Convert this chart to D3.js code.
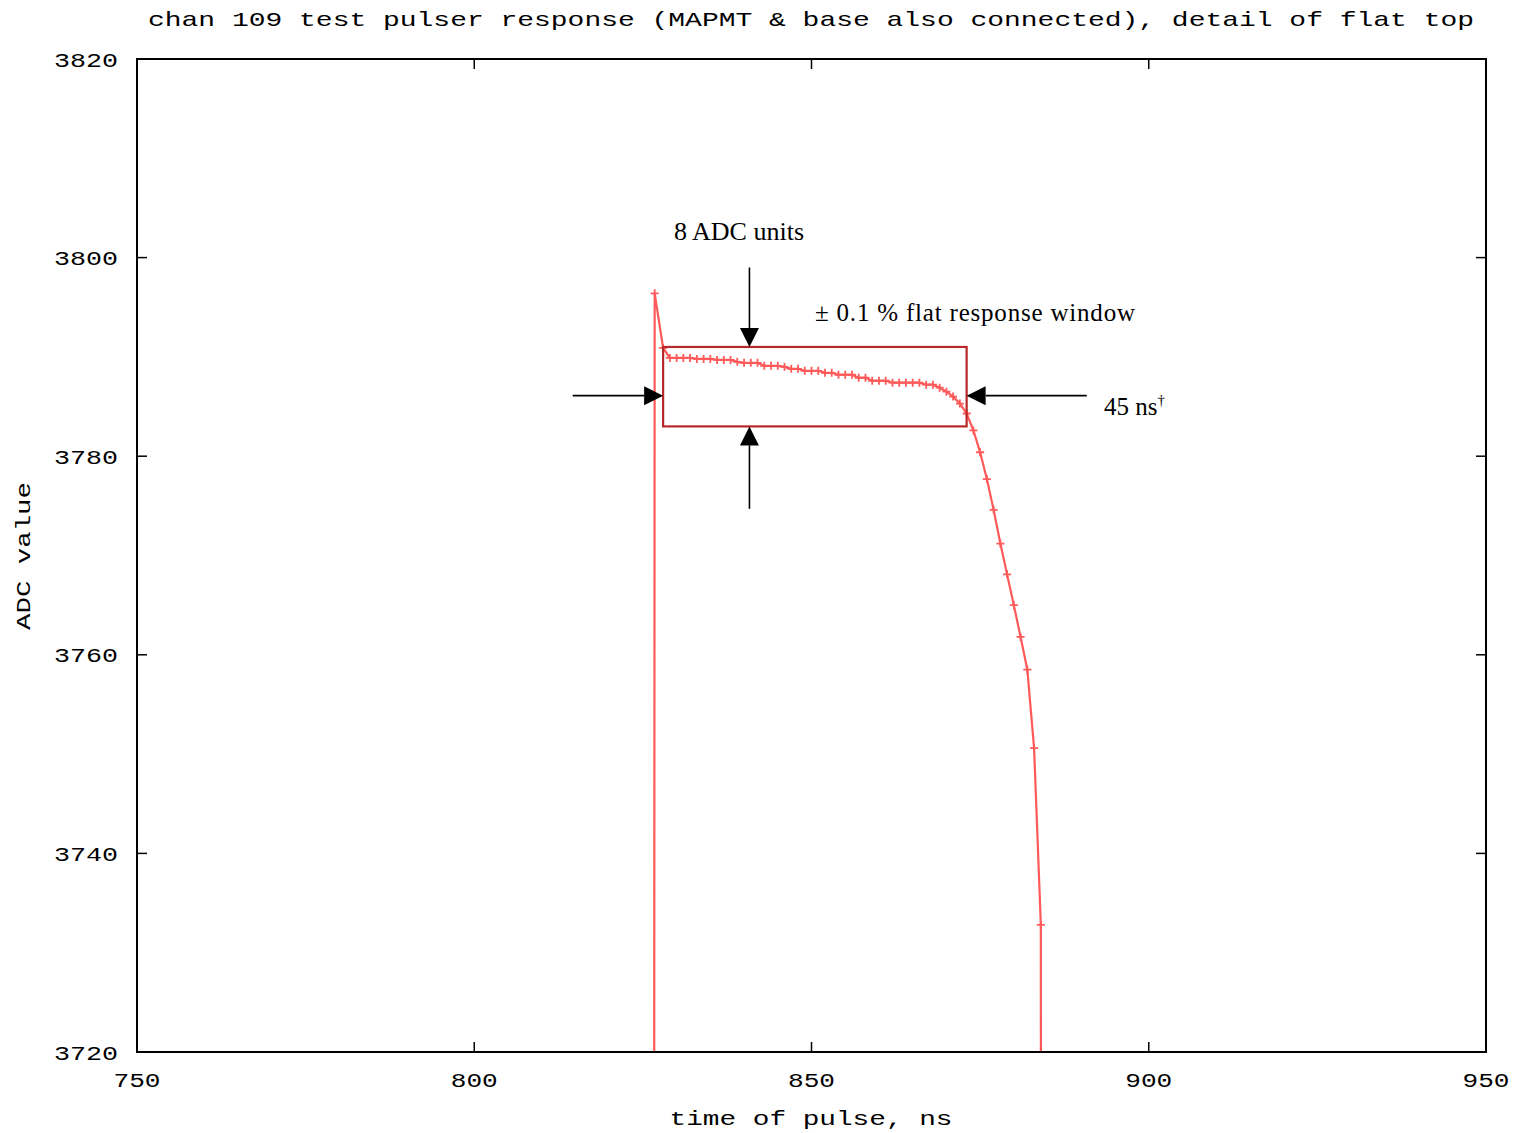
<!DOCTYPE html>
<html>
<head>
<meta charset="utf-8">
<script src="https://cdn.jsdelivr.net/npm/d3@7"></script>
<style>
  html, body { margin: 0; padding: 0; background: #fff; }
  svg { display: block; }
</style>
</head>
<body>
<svg id="chart" width="1522" height="1133"></svg>
<script>
// ---------- data ----------
const titleText = "chan 109 test pulser response (MAPMT & base also connected), detail of flat top";
const xLabel = "time of pulse, ns";
const yLabel = "ADC value";
const xTicks = [750, 800, 850, 900, 950];
const yTicks = [3720, 3740, 3760, 3780, 3800, 3820];

// time (ns) of each sample
const times = [826.3, 826.75, 828,
  829, 830, 831, 832, 833, 834, 835, 836, 837, 838, 839, 840,
  841, 842, 843, 844, 845, 846, 847, 848, 849, 850,
  851, 852, 853, 854, 855, 856, 857, 858, 859, 860,
  861, 862, 863, 864, 865, 866, 867, 868, 869, 870,
  871, 872, 873, 874, 875, 876, 877, 878, 879, 880,
  881, 882, 883, 884, 884.3];
// ADC value of each sample
const adc = [3300, 3796.4, 3790.9,
  3789.9, 3789.9, 3789.9, 3789.9, 3789.8, 3789.8, 3789.8, 3789.7, 3789.7, 3789.7, 3789.5, 3789.4,
  3789.4, 3789.4, 3789.1, 3789.1, 3789.1, 3789.0, 3788.8, 3788.8, 3788.6, 3788.6,
  3788.6, 3788.4, 3788.4, 3788.2, 3788.2, 3788.2, 3787.9, 3787.9, 3787.6, 3787.6,
  3787.6, 3787.4, 3787.4, 3787.4, 3787.4, 3787.4, 3787.2, 3787.2, 3786.9, 3786.5,
  3786.0, 3785.3, 3784.3, 3782.6, 3780.4, 3777.7, 3774.6, 3771.2, 3768.1, 3765.0,
  3761.8, 3758.5, 3750.6, 3732.8, 3300];

// flat response window (ns and ADC range)
const windowT = [828, 873];
const windowADC = [3783, 3791];

// annotation arrows: [x1, y1, x2 (tip), y2 (tip)] in data units
const arrows = [
  [840.8, 3799.0, 840.8, 3791],
  [840.8, 3774.7, 840.8, 3783],
  [814.6, 3786.1, 828, 3786.1],
  [890.8, 3786.1, 873, 3786.1]
];

// ---------- layout ----------
const svg = d3.select("#chart");
const pL = 137, pR = 1486, pT = 59, pB = 1052;
const x = d3.scaleLinear().domain([750, 950]).range([pL, pR]);
const y = d3.scaleLinear().domain([3720, 3820]).range([pB, pT]);

const monoFont = "'Liberation Mono', 'DejaVu Sans Mono', monospace";
const serifFont = "'Liberation Serif', 'Times New Roman', serif";

// clip
svg.append("defs").append("clipPath").attr("id", "plotclip")
  .append("rect").attr("x", pL).attr("y", pT)
  .attr("width", pR - pL).attr("height", pB - pT);

// title
svg.append("text")
  .attr("x", 811).attr("y", 26)
  .attr("text-anchor", "middle")
  .attr("font-family", monoFont).attr("font-size", 21)
  .attr("textLength", 1326).attr("lengthAdjust", "spacingAndGlyphs")
  .attr("fill", "#000")
  .text(titleText);

// ticks (inside, mirrored)
const tickLen = 10;
const tg = svg.append("g").attr("stroke", "#000").attr("stroke-width", 1.5);
xTicks.forEach(t => {
  if (t === 750 || t === 950) return;
  tg.append("line").attr("x1", x(t)).attr("x2", x(t)).attr("y1", pB).attr("y2", pB - tickLen);
  tg.append("line").attr("x1", x(t)).attr("x2", x(t)).attr("y1", pT).attr("y2", pT + tickLen);
});
yTicks.forEach(v => {
  if (v === 3720 || v === 3820) return;
  tg.append("line").attr("x1", pL).attr("x2", pL + tickLen).attr("y1", y(v)).attr("y2", y(v));
  tg.append("line").attr("x1", pR).attr("x2", pR - tickLen).attr("y1", y(v)).attr("y2", y(v));
});

// tick labels
svg.append("g").selectAll("text").data(xTicks).join("text")
  .attr("x", d => x(d)).attr("y", 1087)
  .attr("text-anchor", "middle")
  .attr("font-family", monoFont).attr("font-size", 21)
  .attr("textLength", 47).attr("lengthAdjust", "spacingAndGlyphs")
  .text(d => d);
svg.append("g").selectAll("text").data(yTicks).join("text")
  .attr("x", 118).attr("y", d => y(d) + 7.5)
  .attr("text-anchor", "end")
  .attr("font-family", monoFont).attr("font-size", 21)
  .attr("textLength", 64).attr("lengthAdjust", "spacingAndGlyphs")
  .text(d => d);

// axis titles
svg.append("text")
  .attr("x", 811).attr("y", 1125)
  .attr("text-anchor", "middle")
  .attr("font-family", monoFont).attr("font-size", 21)
  .attr("textLength", 283).attr("lengthAdjust", "spacingAndGlyphs")
  .text(xLabel);
svg.append("text")
  .attr("transform", "translate(30,556) rotate(-90)")
  .attr("text-anchor", "middle")
  .attr("font-family", monoFont).attr("font-size", 21)
  .attr("textLength", 148).attr("lengthAdjust", "spacingAndGlyphs")
  .text(yLabel);

// data line
const pts = times.map((t, i) => [t, adc[i]]);
const plot = svg.append("g").attr("clip-path", "url(#plotclip)");
const red = "#ff5a5a";
plot.append("path")
  .datum(pts)
  .attr("fill", "none").attr("stroke", red).attr("stroke-width", 2.2)
  .attr("d", d3.line().x(d => x(d[0])).y(d => y(d[1])));
const m = 4;
plot.append("g").attr("stroke", red).attr("stroke-width", 1.8)
  .selectAll("path").data(pts).join("path")
  .attr("d", d => {
    const px = x(d[0]), py = y(d[1]);
    return `M${px - m},${py}H${px + m}M${px},${py - m}V${py + m}`;
  });

// window rectangle
svg.append("rect")
  .attr("x", x(windowT[0])).attr("y", y(windowADC[1]))
  .attr("width", x(windowT[1]) - x(windowT[0]))
  .attr("height", y(windowADC[0]) - y(windowADC[1]))
  .attr("fill", "none").attr("stroke", "#b82828").attr("stroke-width", 2.2);

// arrows
const ag = svg.append("g");
arrows.forEach(a => {
  const x1 = x(a[0]), y1 = y(a[1]), x2 = x(a[2]), y2 = y(a[3]);
  const dx = x2 - x1, dy = y2 - y1, len = Math.hypot(dx, dy);
  const ux = dx / len, uy = dy / len;
  const hl = 19, hw = 9.5;
  const bx = x2 - ux * hl, by = y2 - uy * hl;
  ag.append("line").attr("x1", x1).attr("y1", y1).attr("x2", bx).attr("y2", by)
    .attr("stroke", "#000").attr("stroke-width", 1.6);
  ag.append("path")
    .attr("d", `M${x2},${y2}L${bx - uy * hw},${by + ux * hw}L${bx + uy * hw},${by - ux * hw}Z`)
    .attr("fill", "#000");
});

// annotation texts
svg.append("text").attr("x", 739).attr("y", 240)
  .attr("text-anchor", "middle")
  .attr("font-family", serifFont).attr("font-size", 26)
  .text("8 ADC units");
svg.append("text").attr("x", 815).attr("y", 321)
  .attr("font-family", serifFont).attr("font-size", 25)
  .attr("textLength", 320).attr("lengthAdjust", "spacing")
  .text("± 0.1 % flat response window");
const t45 = svg.append("text").attr("x", 1104).attr("y", 415)
  .attr("font-family", serifFont).attr("font-size", 25);
t45.append("tspan").text("45 ns");
t45.append("tspan").attr("dy", -10).attr("font-size", 15).text("†");

// frame
svg.append("rect")
  .attr("x", pL).attr("y", pT)
  .attr("width", pR - pL).attr("height", pB - pT)
  .attr("fill", "none").attr("stroke", "#000").attr("stroke-width", 2);
</script>
</body>
</html>
